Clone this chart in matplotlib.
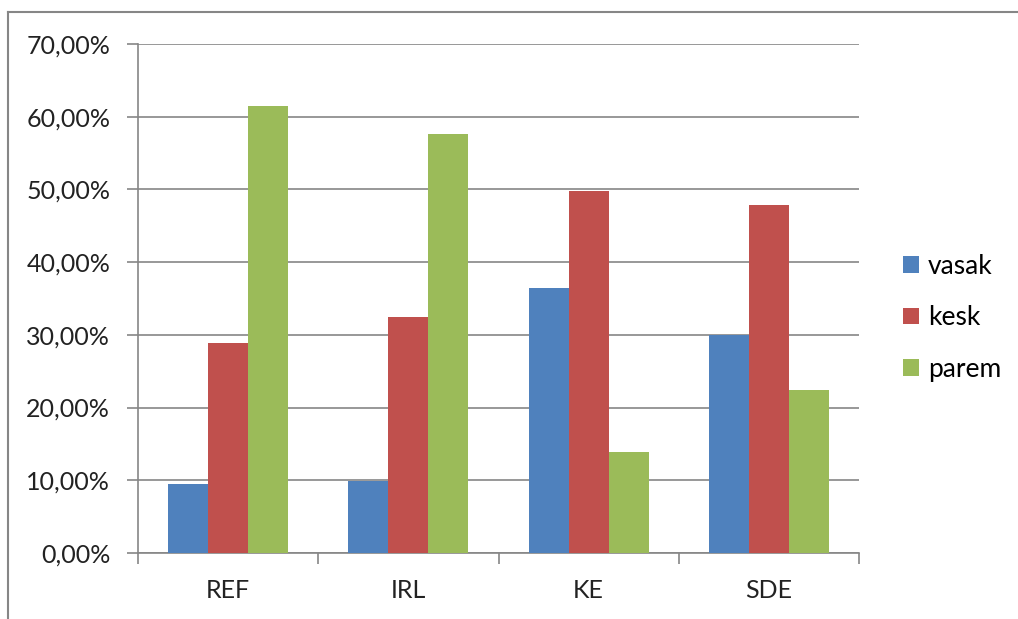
import numpy as np
import matplotlib.pyplot as plt
from matplotlib.ticker import FuncFormatter, FixedLocator
from matplotlib.lines import Line2D

categories = ["REF", "IRL", "KE", "SDE"]
series = ["vasak", "kesk", "parem"]
vasak = [9.5, 9.9, 36.4, 30.0]
kesk = [28.9, 32.5, 49.8, 47.9]
parem = [61.5, 57.6, 13.9, 22.4]
colors = ["#4F81BD", "#C0504D", "#9BBB59"]

plt.rcParams["font.family"] = ["Lato", "DejaVu Sans"]

fig = plt.figure(figsize=(10.18, 6.19), dpi=100)
ax = fig.add_axes([138 / 1018, 1 - 553 / 619, 721 / 1018, 509 / 619])

x = np.arange(len(categories))
w = 2 / 9
for i, (name, vals) in enumerate(zip(series, [vasak, kesk, parem])):
    ax.bar(x + (i - 1) * w, vals, width=w, color=colors[i], label=name, zorder=3)

ax.set_xlim(-0.5, len(categories) - 0.5)
ax.set_ylim(0, 70)
ax.set_yticks(np.arange(0, 71, 10))
ax.yaxis.set_major_formatter(FuncFormatter(lambda v, p: f"{v:.2f}%".replace(".", ",")))
ax.yaxis.grid(True, color="#868686", linewidth=1.2, zorder=0)

ax.set_xticks(x)
ax.set_xticklabels(categories)
ax.xaxis.set_minor_locator(FixedLocator(np.arange(-0.5, len(categories), 1)))
ax.tick_params(axis="x", which="major", length=0, pad=19, labelsize=18, colors="#222222")
ax.tick_params(axis="x", which="minor", length=8, width=1.2, color="#868686")
ax.tick_params(axis="y", length=8, width=1.2, color="#868686", labelsize=18, pad=12,
               labelcolor="#222222")

for s in ["top", "right"]:
    ax.spines[s].set_visible(False)
for s in ["left", "bottom"]:
    ax.spines[s].set_color("#868686")
    ax.spines[s].set_linewidth(1.2)

ax.legend(loc="center left", bbox_to_anchor=(1.061, 0.462), frameon=False, fontsize=19,
          borderaxespad=0, borderpad=0,
          handlelength=0.6, handleheight=0.6, handletextpad=0.35, labelspacing=1.0)

# chart frame
fig.add_artist(Line2D([8 / 1018, 8 / 1018], [0, 1 - 12 / 619], color="#868686", linewidth=1.5))
fig.add_artist(Line2D([8 / 1018, 1], [1 - 12 / 619, 1 - 12 / 619], color="#868686", linewidth=1.5))

fig.savefig("out.png", dpi=100)
